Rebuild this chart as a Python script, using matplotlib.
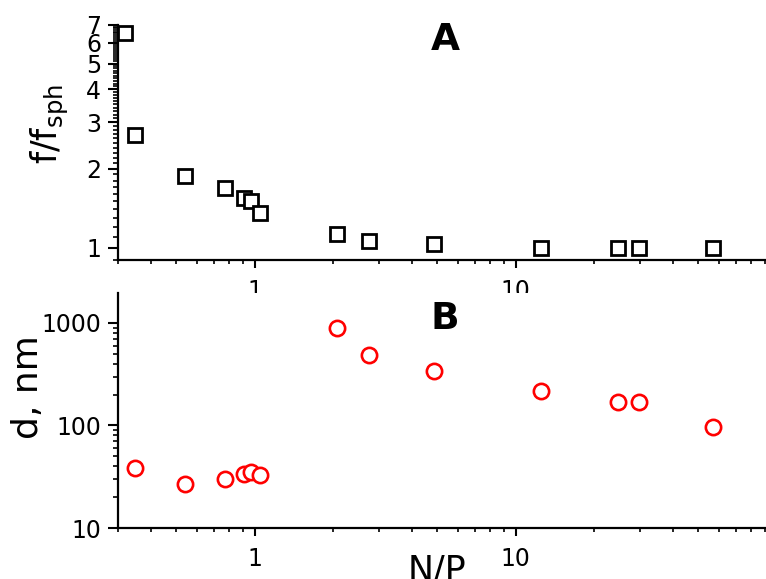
import numpy as np
import matplotlib
matplotlib.use('Agg')
import matplotlib.pyplot as plt
from matplotlib.ticker import FixedLocator, NullFormatter, FuncFormatter, LogLocator

plt.rcParams['font.family'] = ['DejaVu Sans']
plt.rcParams['mathtext.default'] = 'regular'

# data
np_ratio_a = [0.32, 0.35, 0.54, 0.77, 0.91, 0.97, 1.05, 2.07, 2.75, 4.86, 12.5, 24.7, 29.7, 57.0]
f_ratio = [6.5, 2.68, 1.88, 1.68, 1.55, 1.50, 1.36, 1.13, 1.06, 1.035, 1.0, 1.0, 1.0, 1.0]

np_ratio_b = [0.35, 0.54, 0.77, 0.91, 0.97, 1.05, 2.07, 2.75, 4.86, 12.5, 24.7, 29.7, 57.0]
d_nm = [38.5, 27, 30, 33.6, 35.2, 32.9, 894, 487, 340, 217, 170, 170, 97]

W, H = 766, 579
fig = plt.figure(figsize=(W / 100, H / 100), dpi=100)

def px_axes(left, top, right, bottom):
    return fig.add_axes([left / W, 1 - bottom / H, (right - left) / W, (bottom - top) / H])

ax1 = px_axes(118, 25, 766, 260)
ax2 = px_axes(118, 293, 766, 528)

ax1.plot(np_ratio_a, f_ratio, ls='none', marker='s', ms=9.5, mfc='white',
         mec='black', mew=2.0)
ax2.plot(np_ratio_b, d_nm, ls='none', marker='o', ms=11, mfc='white',
         mec='red', mew=1.9)

plain = FuncFormatter(lambda v, p: '%g' % v)

for ax in (ax1, ax2):
    ax.set_xscale('log')
    ax.set_yscale('log')
    ax.set_xlim(0.3, 91)
    ax.spines['top'].set_visible(False)
    ax.spines['right'].set_visible(False)
    ax.spines['left'].set_linewidth(1.6)
    ax.spines['bottom'].set_linewidth(1.6)
    ax.xaxis.set_major_locator(FixedLocator([1, 10, 100]))
    ax.xaxis.set_major_formatter(plain)
    ax.xaxis.set_minor_locator(LogLocator(base=10, subs=np.arange(2, 10)))
    ax.xaxis.set_minor_formatter(NullFormatter())
    ax.tick_params(axis='x', which='major', length=5.5, width=1.5, pad=8, labelsize=17)
    ax.tick_params(axis='x', which='minor', length=3, width=1.2)
    ax.tick_params(axis='y', which='major', length=7, width=1.5, pad=5, labelsize=17)
    ax.tick_params(axis='y', which='minor', length=3.5, width=1.2)

ax1.set_ylim(0.9, 7)
ax1.yaxis.set_major_locator(FixedLocator([1, 2, 3, 4, 5, 6, 7]))
ax1.yaxis.set_major_formatter(plain)
minor_f = [v / 10 for v in range(9, 70) if v % 10 != 0]
ax1.yaxis.set_minor_locator(FixedLocator(minor_f))
ax1.yaxis.set_minor_formatter(NullFormatter())

ax2.set_ylim(10, 1960)
ax2.yaxis.set_major_locator(FixedLocator([10, 100, 1000]))
ax2.yaxis.set_major_formatter(plain)
ax2.yaxis.set_minor_locator(LogLocator(base=10, subs=np.arange(2, 10)))
ax2.yaxis.set_minor_formatter(NullFormatter())

ax1.set_ylabel(r'f/f$_{sph}$', fontsize=25)
ax1.yaxis.set_label_coords(-0.072, 0.58)
ax2.set_ylabel('d, nm', fontsize=26)
ax2.yaxis.set_label_coords(-0.112, 0.60)
ax2.set_xlabel('N/P', fontsize=25)
ax2.xaxis.set_label_coords(0.493, -0.11)
ax2.xaxis.label.set_va('top')

fig.text(445 / W, 1 - 40 / H, 'A', fontsize=27, fontweight='bold', ha='center', va='center')
fig.text(445 / W, 1 - 319 / H, 'B', fontsize=27, fontweight='bold', ha='center', va='center')

fig.savefig('out.png', dpi=100)
